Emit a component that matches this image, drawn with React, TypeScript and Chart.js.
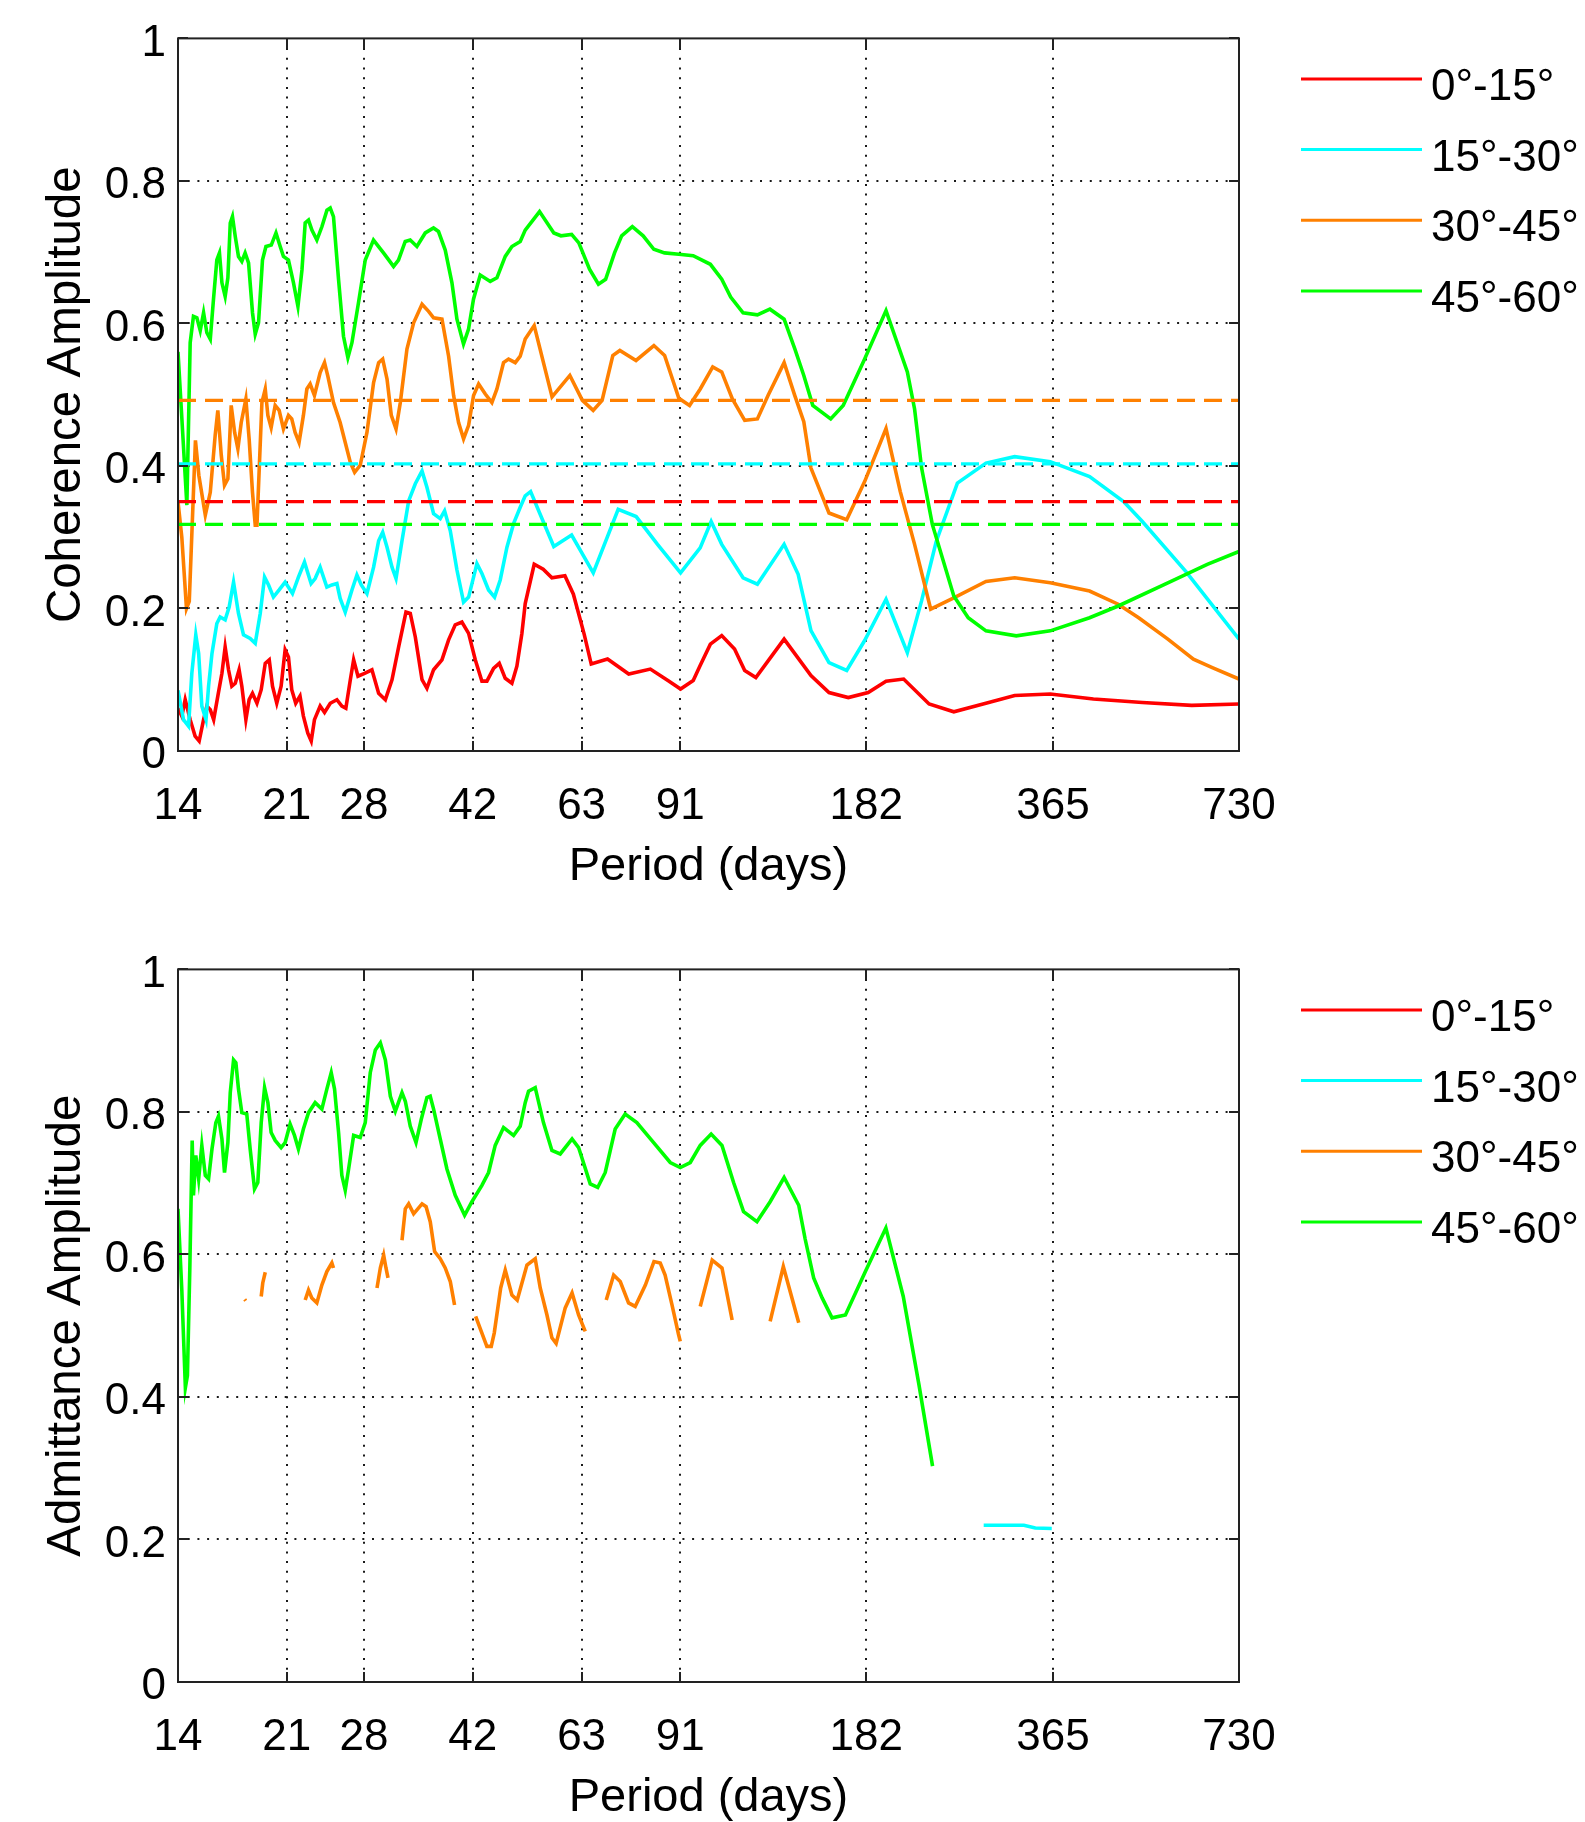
import React, { useEffect, useRef } from "react";
import { Chart, registerables } from "chart.js";

Chart.register(...registerables);

const FONT = '"Liberation Sans", Arial, Helvetica, sans-serif';

// ---------- axes ----------
const xTicks = [14, 21, 28, 42, 63, 91, 182, 365, 730];
const yTicks = [0, 0.2, 0.4, 0.6, 0.8, 1];
const X_MIN = 14;
const X_MAX = 730;

// ---------- legend ----------
const legendLabels = ["0°-15°", "15°-30°", "30°-45°", "45°-60°"];
const seriesColors = ["#ff0000", "#00ffff", "#ff8000", "#00ff00"];

// ---------- coherence (top panel) ----------
const cohRedP = [14.0, 14.2, 14.38, 14.65, 14.92, 15.15, 15.4, 15.59, 15.79, 15.99,
  16.24, 16.49, 16.69, 16.9, 17.11, 17.33, 17.58, 17.76, 18.03, 18.25,
  18.48, 18.79, 19.09, 19.38, 19.67, 19.91, 20.23, 20.56, 20.87, 21.13,
  21.39, 21.71, 22.06, 22.34, 22.71, 23.0, 23.28, 23.78, 24.17, 24.69,
  25.31, 25.78, 26.17, 26.61, 26.94, 27.38, 28.06, 28.84, 29.57, 30.32,
  31.08, 31.86, 32.74, 33.27, 33.9, 34.76, 35.4, 36.29, 37.44, 38.38,
  39.34, 40.33, 41.35, 42.39, 43.45, 44.27, 45.38, 46.35, 47.4, 48.59,
  49.5, 50.43, 51.06, 52.8, 54.6, 56.4, 59.2, 61.1, 63.6, 65.3,
  69.4, 75.1, 81.4, 86.9, 91.1, 95.5, 98.0, 101.8, 106.2, 111.4,
  115.7, 120.6, 134.0, 148.1, 158.4, 170.2, 183.3, 195.9, 209.2, 230.0,
  252.2, 281.3, 316.4, 361.3, 424.3, 509.2, 612.0, 730];
const cohRedV = [0.06, 0.049, 0.072, 0.044, 0.021, 0.014, 0.044, 0.063, 0.058, 0.044,
  0.077, 0.109, 0.146, 0.114, 0.091, 0.095, 0.114, 0.091, 0.044, 0.072,
  0.081, 0.067, 0.086, 0.123, 0.128, 0.091, 0.067, 0.091, 0.142, 0.132,
  0.086, 0.067, 0.077, 0.049, 0.025, 0.014, 0.044, 0.063, 0.054, 0.067,
  0.072, 0.063, 0.06, 0.1, 0.128, 0.105, 0.109, 0.114, 0.081, 0.072,
  0.1, 0.146, 0.195, 0.193, 0.16, 0.1, 0.088, 0.114, 0.128, 0.156,
  0.177, 0.181, 0.165, 0.128, 0.098, 0.098, 0.116, 0.123, 0.102, 0.095,
  0.119, 0.165, 0.207, 0.262, 0.255, 0.243, 0.246, 0.22, 0.164, 0.122,
  0.129, 0.108, 0.115, 0.099, 0.087, 0.099, 0.12, 0.15, 0.162, 0.143,
  0.113, 0.103, 0.157, 0.106, 0.082, 0.075, 0.082, 0.098, 0.101, 0.066,
  0.055, 0.066, 0.078, 0.08, 0.073, 0.068, 0.064, 0.066];

const cohCyanP = [14.0, 14.29, 14.56, 14.74, 14.96, 15.12, 15.3, 15.54, 15.69, 15.89,
  16.18, 16.38, 16.69, 16.94, 17.22, 17.54, 17.87, 18.32, 18.67, 19.02,
  19.33, 19.62, 19.98, 20.41, 20.87, 21.45, 21.93, 22.43, 22.99, 23.34,
  23.78, 24.38, 24.84, 25.31, 25.62, 26.11, 26.77, 27.27, 27.72, 28.31,
  29.02, 29.57, 30.02, 30.51, 31.08, 31.55, 32.26, 33.07, 33.9, 34.76,
  35.4, 36.29, 37.2, 37.81, 38.62, 39.59, 40.58, 41.35, 42.65, 43.45,
  44.54, 45.55, 46.52, 47.7, 48.89, 50.12, 51.06, 52.1, 54.6, 56.8,
  60.7, 65.8, 72.2, 77.2, 83.6, 91.1, 98.0, 102.1, 106.2, 115.0,
  121.3, 134.0, 141.2, 148.1, 158.4, 169.2, 180.9, 195.9, 212.1, 223.7,
  236.2, 255.6, 284.3, 316.4, 361.3, 418.3, 474.8, 509.2, 598.6, 730];
const cohCyanV = [0.085, 0.044, 0.035, 0.109, 0.163, 0.137, 0.063, 0.044, 0.091, 0.137,
  0.179, 0.188, 0.184, 0.202, 0.237, 0.193, 0.163, 0.158, 0.151, 0.193,
  0.244, 0.233, 0.216, 0.226, 0.237, 0.221, 0.244, 0.265, 0.235, 0.242,
  0.258, 0.23, 0.233, 0.235, 0.214, 0.195, 0.226, 0.247, 0.233, 0.221,
  0.258, 0.295, 0.307, 0.286, 0.258, 0.242, 0.295, 0.351, 0.375, 0.393,
  0.37, 0.333, 0.326, 0.337, 0.309, 0.254, 0.209, 0.216, 0.263, 0.249,
  0.226, 0.216, 0.24, 0.286, 0.319, 0.342, 0.358, 0.364, 0.322, 0.287,
  0.303, 0.25, 0.339, 0.329, 0.29, 0.25, 0.285, 0.322, 0.29, 0.243,
  0.234, 0.29, 0.248, 0.169, 0.124, 0.113, 0.155, 0.213, 0.138, 0.211,
  0.294, 0.376, 0.404, 0.413, 0.406, 0.385, 0.35, 0.322, 0.252, 0.157];

const cohOrangeP = [14.0, 14.2, 14.45, 14.6, 14.94, 15.13, 15.5, 15.79, 16.08, 16.24,
  16.45, 16.65, 16.86, 17.07, 17.29, 17.5, 17.72, 18.03, 18.25, 18.48,
  18.67, 18.79, 19.14, 19.38, 19.57, 19.81, 20.11, 20.41, 20.74, 21.13,
  21.39, 21.66, 21.98, 22.34, 22.63, 22.91, 23.28, 23.78, 24.17, 24.47,
  24.99, 25.62, 26.11, 26.61, 27.04, 27.61, 28.31, 29.02, 29.57, 30.02,
  30.51, 31.0, 31.55, 32.06, 32.86, 33.69, 34.76, 35.62, 36.29, 37.44,
  38.38, 39.1, 39.83, 40.58, 41.35, 42.12, 42.92, 44.0, 45.1, 45.95,
  47.1, 47.99, 49.2, 50.12, 51.06, 52.8, 56.43, 60.3, 63.18, 65.78,
  68.0, 70.77, 72.65, 77.16, 82.48, 85.84, 90.52, 94.2, 98.03, 102.7,
  106.2, 110.5, 115.7, 121.3, 126.2, 134.0, 139.4, 144.2, 148.1, 158.4,
  169.2, 180.9, 195.9, 206.6, 217.9, 231.4, 252.2, 284.3, 316.4, 361.3,
  418.3, 465.4, 502.2, 560.0, 615.9, 660.8, 730];
const cohOrangeV = [0.35, 0.3, 0.2, 0.21, 0.436, 0.387, 0.331, 0.363, 0.443, 0.478,
  0.415, 0.373, 0.382, 0.485, 0.447, 0.424, 0.461, 0.494, 0.438, 0.363,
  0.317, 0.317, 0.489, 0.508, 0.471, 0.454, 0.485, 0.478, 0.452, 0.471,
  0.466, 0.447, 0.433, 0.471, 0.508, 0.515, 0.499, 0.531, 0.545, 0.526,
  0.489, 0.461, 0.433, 0.405, 0.391, 0.401, 0.447, 0.517, 0.545, 0.55,
  0.522, 0.471, 0.452, 0.489, 0.564, 0.601, 0.627, 0.617, 0.608, 0.606,
  0.554, 0.499, 0.461, 0.438, 0.457, 0.499, 0.515, 0.501, 0.489, 0.508,
  0.545, 0.55, 0.545, 0.554, 0.578, 0.597, 0.497, 0.527, 0.492, 0.478,
  0.492, 0.555, 0.562, 0.548, 0.569, 0.555, 0.495, 0.485, 0.508, 0.539,
  0.532, 0.494, 0.464, 0.466, 0.499, 0.545, 0.499, 0.462, 0.397, 0.334,
  0.3245, 0.378, 0.4525, 0.364, 0.29, 0.199, 0.215, 0.238, 0.243, 0.236,
  0.2245, 0.206, 0.187, 0.157, 0.129, 0.117, 0.101];

const cohGreenP = [14.0, 14.47, 14.65, 14.83, 15.02, 15.21, 15.4, 15.59, 15.79, 15.98,
  16.18, 16.34, 16.49, 16.69, 16.86, 17.01, 17.15, 17.33, 17.54, 17.76,
  17.98, 18.21, 18.48, 18.67, 18.9, 19.18, 19.43, 19.82, 20.17, 20.49,
  20.74, 21.13, 21.53, 21.89, 22.22, 22.49, 22.77, 23.06, 23.49, 23.94,
  24.39, 24.69, 24.99, 25.47, 25.94, 26.37, 26.77, 27.43, 28.13, 29.01,
  30.11, 31.26, 31.84, 32.65, 33.26, 34.1, 35.18, 36.28, 36.96, 37.9,
  38.86, 39.59, 40.57, 41.34, 42.11, 43.18, 44.82, 45.95, 47.4, 48.59,
  50.12, 51.06, 53.86, 56.81, 58.33, 60.7, 62.35, 64.89, 67.08, 68.9,
  71.23, 73.14, 76.11, 79.24, 82.46, 85.82, 90.52, 95.48, 101.8, 106.2,
  109.8, 115.0, 121.3, 127.1, 134.0, 139.5, 144.2, 149.1, 159.4, 167.0,
  180.9, 195.9, 212.1, 217.9, 223.7, 232.8, 252.2, 266.1, 284.3, 318.3,
  361.3, 418.3, 465.4, 553.3, 648.6, 730];
const cohGreenV = [0.56, 0.345, 0.573, 0.61, 0.608, 0.59, 0.615, 0.587, 0.578, 0.634,
  0.689, 0.699, 0.657, 0.638, 0.664, 0.741, 0.75, 0.722, 0.694, 0.687,
  0.699, 0.685, 0.615, 0.585, 0.601, 0.689, 0.708, 0.71, 0.727, 0.708,
  0.694, 0.689, 0.657, 0.624, 0.675, 0.741, 0.745, 0.731, 0.717, 0.736,
  0.759, 0.762, 0.75, 0.661, 0.582, 0.552, 0.573, 0.629, 0.689, 0.717,
  0.699, 0.68, 0.689, 0.715, 0.717, 0.708, 0.727, 0.734, 0.729, 0.703,
  0.657, 0.606, 0.571, 0.592, 0.634, 0.668, 0.659, 0.664, 0.694, 0.708,
  0.715, 0.731, 0.757, 0.727, 0.723, 0.725, 0.713, 0.676, 0.655, 0.662,
  0.699, 0.723, 0.736, 0.723, 0.704, 0.699, 0.697, 0.695, 0.683, 0.662,
  0.637, 0.615, 0.612, 0.62, 0.606, 0.564, 0.527, 0.485, 0.466, 0.485,
  0.55, 0.618, 0.532, 0.48, 0.397, 0.318, 0.2175, 0.187, 0.1686, 0.1616,
  0.1686, 0.187, 0.2035, 0.2338, 0.262, 0.28];

// significance levels (dashed)
const cohThreshold = [0.35, 0.403, 0.492, 0.318]; // red, cyan, orange, green

// ---------- admittance (bottom panel) ----------
const admGreenP = [14.0, 14.2, 14.39, 14.5, 14.63, 14.76, 14.83, 14.96, 15.12, 15.3,
  15.5, 15.69, 15.89, 16.12, 16.28, 16.49, 16.65, 16.86, 17.01, 17.22,
  17.37, 17.54, 17.76, 18.09, 18.32, 18.62, 18.85, 19.09, 19.33, 19.57,
  19.81, 20.11, 20.56, 20.87, 21.26, 21.61, 21.93, 22.34, 22.77, 23.34,
  23.93, 24.38, 24.78, 25.09, 25.47, 25.78, 26.11, 26.44, 26.94, 27.61,
  28.13, 28.66, 29.21, 29.76, 30.32, 30.89, 31.47, 32.26, 32.66, 33.27,
  33.99, 34.67, 35.4, 35.84, 36.29, 37.2, 38.14, 39.34, 40.74, 41.86,
  43.45, 44.54, 45.66, 47.1, 48.89, 50.12, 51.06, 51.7, 53.0, 54.65,
  56.4, 58.18, 60.8, 62.3, 65.06, 66.9, 68.8, 71.4, 74.1, 77.4,
  82.4, 87.66, 90.99, 94.45, 98.03, 102.1, 106.3, 111.0, 115.2, 121.1,
  127.2, 134.0, 141.5, 144.9, 149.6, 154.4, 160.2, 168.4, 181.4, 195.8,
  208.9, 221.4, 233.0];
const admGreenV = [0.664, 0.55, 0.413, 0.43, 0.58, 0.76, 0.683, 0.739, 0.706, 0.753,
  0.711, 0.706, 0.748, 0.785, 0.794, 0.762, 0.715, 0.757, 0.827, 0.873,
  0.869, 0.832, 0.799, 0.797, 0.748, 0.692, 0.701, 0.785, 0.834, 0.813,
  0.771, 0.76, 0.75, 0.757, 0.783, 0.767, 0.748, 0.776, 0.799, 0.813,
  0.804, 0.832, 0.855, 0.832, 0.771, 0.711, 0.69, 0.72, 0.767, 0.764,
  0.785, 0.855, 0.887, 0.897, 0.873, 0.822, 0.801, 0.827, 0.815, 0.78,
  0.757, 0.79, 0.82, 0.822, 0.804, 0.762, 0.72, 0.683, 0.655, 0.674,
  0.697, 0.715, 0.753, 0.778, 0.767, 0.78, 0.813, 0.829, 0.834, 0.785,
  0.746, 0.741, 0.762, 0.75, 0.699, 0.694, 0.715, 0.776, 0.797, 0.785,
  0.757, 0.729, 0.722, 0.729, 0.753, 0.769, 0.753, 0.701, 0.66, 0.646,
  0.674, 0.708, 0.669, 0.622, 0.567, 0.539, 0.511, 0.515, 0.576, 0.637,
  0.541, 0.418, 0.303];

// null = no value (gap in the record)
const admOrangeP = [17.95, 18.02, 18.5,
  19.09, 19.2, 19.38, 21.0,
  22.49, 22.77, 23.05, 23.49, 23.93, 24.38, 24.84, 24.99, 27.0,
  29.39, 29.76, 30.13, 30.39, 30.62, 31.5,
  32.26, 32.66, 33.07, 33.69, 34.76, 35.29, 35.84, 36.43, 37.2, 37.9, 38.62, 39.24, 41.0,
  42.45, 44.26, 44.99, 45.5, 46.6, 47.4, 48.59, 49.56, 51.39, 53.0, 54.0, 55.37, 56.4, 57.3, 59.27, 60.8, 62.3, 63.86, 66.0,
  69.06, 71.0, 72.76, 75.05, 76.93, 79.9, 82.5, 84.46, 86.0, 88.2, 90.4, 90.99, 95.0,
  98.03, 102.5, 106.3, 110.4, 118.0,
  127.2, 133.6, 141.5];
const admOrangeV = [0.537, 0.535, null,
  0.541, 0.56, 0.575, null,
  0.536, 0.55, 0.539, 0.532, 0.557, 0.576, 0.588, 0.581, null,
  0.553, 0.581, 0.599, 0.581, 0.567, null,
  0.62, 0.664, 0.671, 0.657, 0.671, 0.667, 0.646, 0.604, 0.594, 0.581, 0.562, 0.529, null,
  0.513, 0.471, 0.471, 0.49, 0.553, 0.578, 0.543, 0.536, 0.585, 0.594, 0.553, 0.515, 0.483, 0.475, 0.525, 0.546, 0.515, 0.492, null,
  0.536, 0.571, 0.562, 0.532, 0.527, 0.557, 0.59, 0.588, 0.571, 0.53, 0.488, 0.478, null,
  0.527, 0.592, 0.581, 0.508, null,
  0.506, 0.583, 0.504];

const admCyanP = [281.9, 327.5, 341.7, 363.3];
const admCyanV = [0.22, 0.22, 0.216, 0.2155];

// ---------- helpers ----------
function solid(P: number[], V: (number | null)[], color: string) {
  return {
    data: P.map((p, i) => ({ x: p, y: V[i] })),
    borderColor: color,
    backgroundColor: color,
    borderWidth: 3.6,
    pointRadius: 0,
    pointHoverRadius: 0,
    tension: 0,
    fill: false,
    spanGaps: false,
  };
}

function dashed(value: number, color: string) {
  return {
    data: [
      { x: X_MIN, y: value },
      { x: X_MAX, y: value },
    ],
    borderColor: color,
    backgroundColor: color,
    borderWidth: 3.2,
    borderDash: [18, 9],
    pointRadius: 0,
    pointHoverRadius: 0,
    tension: 0,
    fill: false,
  };
}

const framePlugin = {
  id: "matlabFrame",
  beforeDatasetsDraw(chart: any) {
    const { ctx, chartArea: a, scales } = chart;
    const x = scales.x;
    const y = scales.y;
    ctx.save();
    ctx.strokeStyle = "#1a1a1a";
    ctx.lineWidth = 2;
    ctx.setLineDash([2, 7.7]);
    for (const t of xTicks) {
      if (t === X_MIN || t === X_MAX) continue;
      const px = Math.round(x.getPixelForValue(t));
      ctx.beginPath();
      ctx.moveTo(px, a.top);
      ctx.lineTo(px, a.bottom);
      ctx.stroke();
    }
    for (const t of yTicks) {
      if (t === 0 || t === 1) continue;
      const py = Math.round(y.getPixelForValue(t));
      ctx.beginPath();
      ctx.moveTo(a.left, py);
      ctx.lineTo(a.right, py);
      ctx.stroke();
    }
    ctx.restore();
  },
  afterDatasetsDraw(chart: any) {
    const { ctx, chartArea: a, scales } = chart;
    const x = scales.x;
    const y = scales.y;
    ctx.save();
    ctx.setLineDash([]);
    ctx.strokeStyle = "#222";
    ctx.lineWidth = 2;
    ctx.strokeRect(a.left, a.top, a.right - a.left, a.bottom - a.top);
    const L = 10;
    ctx.beginPath();
    for (const t of xTicks) {
      const px = Math.round(x.getPixelForValue(t));
      ctx.moveTo(px, a.bottom);
      ctx.lineTo(px, a.bottom - L);
      ctx.moveTo(px, a.top);
      ctx.lineTo(px, a.top + L);
    }
    for (const t of yTicks) {
      const py = Math.round(y.getPixelForValue(t));
      ctx.moveTo(a.left, py);
      ctx.lineTo(a.left + L, py);
      ctx.moveTo(a.right, py);
      ctx.lineTo(a.right - L, py);
    }
    ctx.stroke();
    ctx.restore();
  },
  afterDraw(chart: any) {
    const { ctx, chartArea: a } = chart;
    ctx.save();
    ctx.setLineDash([]);
    legendLabels.forEach((lab, i) => {
      const yy = a.top + 40.5 + i * 70.7;
      ctx.strokeStyle = seriesColors[i];
      ctx.lineWidth = 3;
      ctx.beginPath();
      ctx.moveTo(a.right + 62, yy);
      ctx.lineTo(a.right + 183, yy);
      ctx.stroke();
      ctx.fillStyle = "#000";
      ctx.font = `44px ${FONT}`;
      ctx.textAlign = "left";
      ctx.textBaseline = "middle";
      ctx.fillText(lab, a.right + 192, yy + 9);
    });
    ctx.restore();
  },
};

const W = 1585;
const H = 895;

function makeOptions(yTitle: string) {
  return {
    responsive: false,
    maintainAspectRatio: false,
    animation: false as const,
    devicePixelRatio: 1,
    layout: { padding: { top: 35, right: 346, left: 0, bottom: 0 } },
    plugins: {
      legend: { display: false },
      tooltip: { enabled: false },
    },
    events: [] as any[],
    scales: {
      x: {
        type: "logarithmic" as const,
        min: X_MIN,
        max: X_MAX,
        afterBuildTicks(s: any) {
          s.ticks = xTicks.map((v) => ({ value: v }));
        },
        afterFit(s: any) {
          s.height = 144;
        },
        grid: { display: false, drawTicks: false },
        border: { display: false },
        ticks: {
          autoSkip: false,
          maxRotation: 0,
          minRotation: 0,
          padding: 29,
          color: "#000",
          font: { size: 44, family: FONT },
          callback: (v: any) => String(v),
        },
        title: {
          display: true,
          text: "Period (days)",
          color: "#000",
          font: { size: 47, family: FONT },
          padding: { top: 0, bottom: 0 },
        },
      },
      y: {
        type: "linear" as const,
        min: 0,
        max: 1,
        afterBuildTicks(s: any) {
          s.ticks = yTicks.map((v) => ({ value: v }));
        },
        afterFit(s: any) {
          s.width = 178;
        },
        grid: { display: false, drawTicks: false },
        border: { display: false },
        ticks: {
          padding: 12,
          labelOffset: 5,
          color: "#000",
          font: { size: 44, family: FONT },
          callback: (v: any) => String(v),
        },
        title: {
          display: true,
          text: yTitle,
          color: "#000",
          font: { size: 47.5, family: FONT },
          padding: { top: 38, bottom: 0 },
        },
      },
    },
  };
}

function Panel({ datasets, yTitle, top }: { datasets: any[]; yTitle: string; top: number }) {
  const ref = useRef<HTMLCanvasElement>(null);
  useEffect(() => {
    if (!ref.current) return;
    const chart = new Chart(ref.current, {
      type: "line",
      data: { datasets },
      options: makeOptions(yTitle) as any,
      plugins: [framePlugin],
    });
    return () => chart.destroy();
  }, []);
  return (
    <canvas
      ref={ref}
      width={W}
      height={H}
      style={{ position: "absolute", left: 0, top, width: W, height: H }}
    />
  );
}

export default function App() {
  const topSets = [
    dashed(cohThreshold[3], seriesColors[3]),
    dashed(cohThreshold[2], seriesColors[2]),
    dashed(cohThreshold[1], seriesColors[1]),
    dashed(cohThreshold[0], seriesColors[0]),
    solid(cohGreenP, cohGreenV, seriesColors[3]),
    solid(cohOrangeP, cohOrangeV, seriesColors[2]),
    solid(cohCyanP, cohCyanV, seriesColors[1]),
    solid(cohRedP, cohRedV, seriesColors[0]),
  ];
  const bottomSets = [
    solid(admGreenP, admGreenV, seriesColors[3]),
    solid(admOrangeP, admOrangeV, seriesColors[2]),
    solid(admCyanP, admCyanV, seriesColors[1]),
  ];
  return (
    <div style={{ position: "absolute", left: 0, top: 0, width: W, height: 1822, background: "#fff", overflow: "hidden" }}>
      <Panel datasets={topSets} yTitle="Coherence Amplitude" top={0} />
      <Panel datasets={bottomSets} yTitle="Admittance Amplitude" top={931} />
    </div>
  );
}
